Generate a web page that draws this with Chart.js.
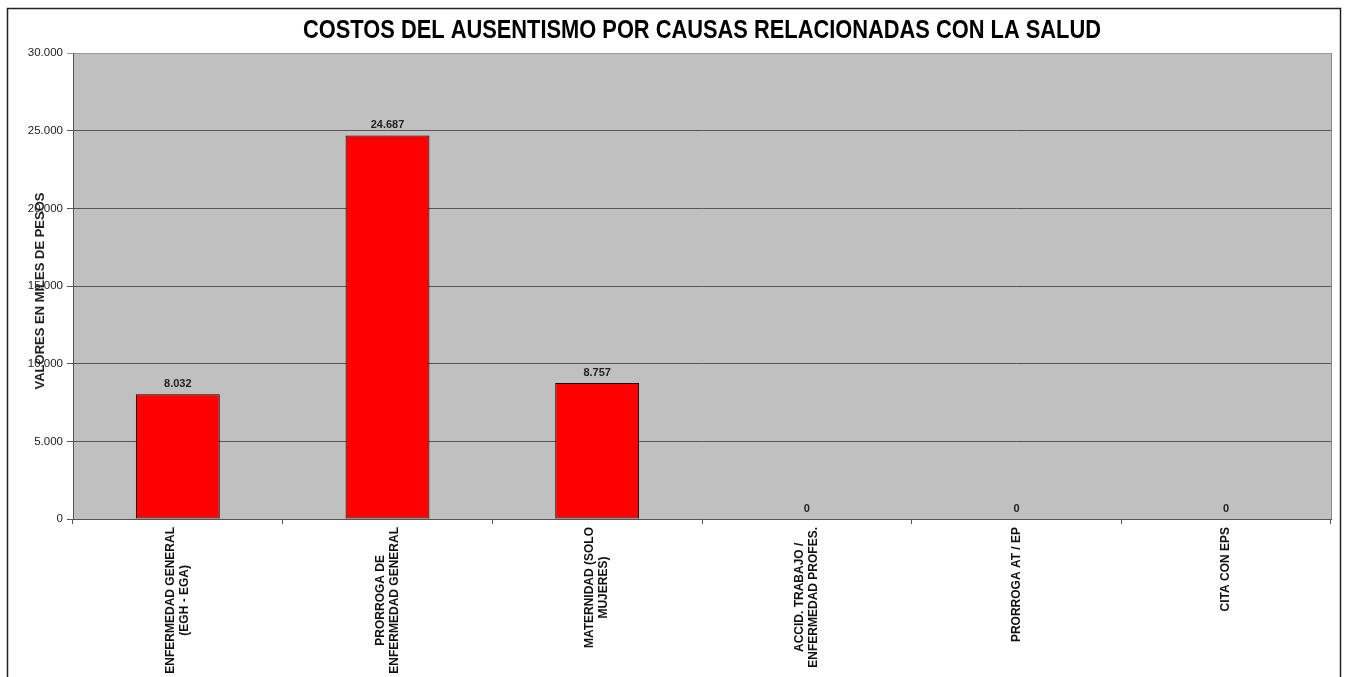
<!DOCTYPE html>
<html>
<head>
<meta charset="utf-8">
<script src="https://cdn.jsdelivr.net/npm/chart.js@4.4.0/dist/chart.umd.min.js"></script>
<style>
  html, body { margin: 0; padding: 0; background: #fff; overflow: hidden; }
  #wrap { position: relative; width: 1346px; height: 677px; }
</style>
</head>
<body>
<div id="wrap"><canvas id="chart-costos" width="1346" height="677"></canvas></div>
<script>
// datos del grafico
var titulo = "COSTOS DEL AUSENTISMO POR CAUSAS RELACIONADAS CON LA SALUD";
var tituloEje = "VALORES EN MILES DE PESOS";
var causas = [
  ["ENFERMEDAD GENERAL", "(EGH - EGA)"],
  ["PRORROGA DE", "ENFERMEDAD GENERAL"],
  ["MATERNIDAD (SOLO", "MUJERES)"],
  ["ACCID. TRABAJO /", "ENFERMEDAD PROFES."],
  ["PRORROGA AT / EP"],
  ["CITA CON EPS"]
];
var costos = [8032, 24687, 8757, 0, 0, 0];
var ejeMin = 0;
var ejeMax = 30000;
var ejePaso = 5000;

var fuente = "'Liberation Sans', Arial, sans-serif";

function miles(v) {
  return String(Math.round(v)).replace(/\B(?=(\d{3})+(?!\d))/g, ".");
}

// fondo, marco y textos extra
var decorado = {
  id: "decorado",
  beforeDraw: function (chart) {
    var c = chart.ctx, a = chart.chartArea;
    c.save();
    c.fillStyle = "#fff";
    c.fillRect(0, 0, chart.width, chart.height);
    c.strokeStyle = "#222";
    c.lineWidth = 1.5;
    c.strokeRect(7.5, 8.5, 1333, 700);
    c.fillStyle = "#c0c0c0";
    c.fillRect(a.left, a.top, a.right - a.left, a.bottom - a.top);
    c.restore();
  },
  afterDraw: function (chart) {
    var c = chart.ctx, a = chart.chartArea;
    c.save();

    // borde derecho del area
    c.strokeStyle = "#8a8a8a";
    c.lineWidth = 1;
    c.beginPath();
    c.moveTo(a.right + 0.5, a.top);
    c.lineTo(a.right + 0.5, a.bottom);
    c.stroke();

    // titulo
    c.fillStyle = "#000";
    c.font = "bold 25px 'Liberation Sans Narrow', 'Arial Narrow', " + fuente;
    c.textAlign = "center";
    c.textBaseline = "middle";
    var w = c.measureText(titulo).width;
    var cx = (a.left + a.right) / 2;
    c.save();
    c.translate(cx, 31);
    c.scale(798 / w, 1);
    c.fillText(titulo, 0, 0);
    c.restore();

    // titulo del eje y
    c.save();
    c.font = "bold 13px " + fuente;
    c.fillStyle = "#222";
    c.translate(a.left - 33, 291);
    c.rotate(-Math.PI / 2);
    c.fillText(tituloEje, 0, 0);
    c.restore();

    // etiquetas de valores
    var meta = chart.getDatasetMeta(0);
    c.font = "bold 11px " + fuente;
    c.fillStyle = "#222";
    c.textBaseline = "bottom";
    meta.data.forEach(function (bar, i) {
      c.fillText(miles(costos[i]), bar.x, bar.y - 5);
    });

    // categorias giradas
    var x = chart.scales.x;
    c.font = "bold 12px " + fuente;
    c.fillStyle = "#111";
    c.textBaseline = "middle";
    causas.forEach(function (lineas, i) {
      var px = x.getPixelForValue(i);
      var maxW = 0;
      lineas.forEach(function (l) { maxW = Math.max(maxW, c.measureText(l).width); });
      c.save();
      c.translate(px, a.bottom + 8 + maxW / 2);
      c.rotate(-Math.PI / 2);
      lineas.forEach(function (l, j) {
        c.fillText(l, 0, (j - (lineas.length - 1) / 2) * 14);
      });
      c.restore();
    });

    c.restore();
  }
};

var ctx = document.getElementById("chart-costos").getContext("2d");

new Chart(ctx, {
  type: "bar",
  data: {
    labels: causas.map(function (l) { return l.join(" "); }),
    datasets: [
      {
        label: "Costos",
        data: costos,
        backgroundColor: "#ff0000",
        borderColor: "#000",
        borderWidth: 1,
        borderSkipped: false,
        barPercentage: 0.4,
        categoryPercentage: 1.0,
      },
    ],
  },
  options: {
    responsive: false,
    animation: false,
    devicePixelRatio: 1,
    layout: {
      padding: { top: 53, right: 15, bottom: 0, left: 0 },
    },
    plugins: {
      legend: { display: false },
      tooltip: { enabled: false },
      title: { display: false },
    },
    scales: {
      x: {
        grid: {
          display: true,
          drawOnChartArea: false,
          drawTicks: true,
          tickLength: 5,
          color: "#555",
          offset: true,
        },
        border: { display: true, color: "#555", width: 1 },
        ticks: { display: false },
        afterFit: function (scale) { scale.height = 158; },
      },
      y: {
        min: ejeMin,
        max: ejeMax,
        grid: {
          color: function (c) { return c.tick && c.tick.value === ejeMax ? "#9a9a9a" : "#555"; },
          lineWidth: 1,
          tickLength: 6,
        },
        border: { display: true, color: "#555", width: 1 },
        ticks: {
          stepSize: ejePaso,
          padding: 4,
          color: "#222",
          font: { size: 11.5, family: fuente },
          callback: function (v) { return miles(v); },
        },
        afterFit: function (scale) { scale.width = 73; },
      },
    },
  },
  plugins: [decorado],
});
</script>
</body>
</html>
